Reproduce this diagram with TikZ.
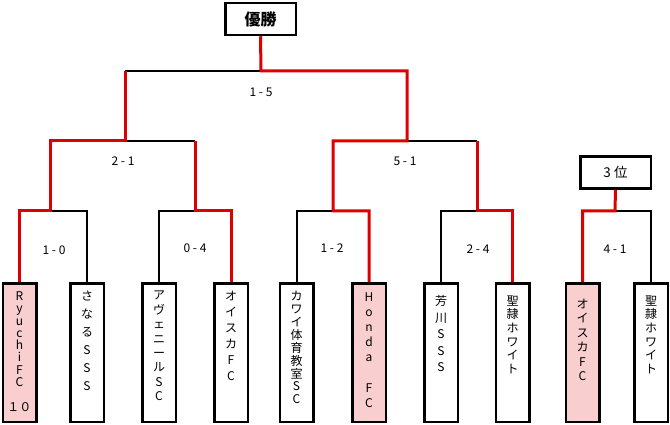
\documentclass[tikz,border=0pt]{standalone}
\usepackage{fontspec}
\setmainfont{Noto Sans CJK JP}
\usetikzlibrary{positioning}
\definecolor{winred}{RGB}{221,0,0}
\definecolor{winpink}{RGB}{248,206,206}
\tikzset{
  team/.style={draw, line width=2.5pt, minimum width=33.5pt, minimum height=138.5pt, anchor=north, inner sep=0pt},
  teamwin/.style={team, fill=winpink},
  teamname/.style={align=center, inner sep=0pt, font=\fontsize{12}{#1}\selectfont},
  rankbox/.style={draw, line width=2.5pt, minimum width=70.5pt, minimum height=32pt, inner sep=0pt},
  score/.style={inner sep=0pt, font=\fontsize{12}{14}\selectfont},
  loss/.style={line width=2pt},
  win/.style={draw=winred, line width=3pt}
}
\begin{document}
\begin{tikzpicture}[x=1pt,y=-1pt]
      \useasboundingbox (0,0) rectangle (670,425);
      %%%%%%%%%%%%%%%%%%%%%%%%%%%%%%%%%%%%%%%%%%%%%%%
      \node[rankbox] (champ) at (260.5,19) {\fontsize{16}{18}\selectfont\bfseries 優勝};
      \node[rankbox] (third) at (615.5,172.5) {\fontsize{13.5}{15}\selectfont 3 位};
      %%%%%%%%%%%%%%%%%%%%%%%%%%%%%%%%%%%%%%%%%%%%%%%
      \node[teamwin] (t1)  at (19.5,282) {};
      \node[team]    (t2)  at (87,282)   {};
      \node[team]    (t3)  at (159,282)  {};
      \node[team]    (t4)  at (231,282)  {};
      \node[team]    (t5)  at (296.5,282) {};
      \node[teamwin] (t6)  at (369,282)  {};
      \node[team]    (t7)  at (441,282)  {};
      \node[team]    (t8)  at (512.5,282) {};
      \node[teamwin] (t9)  at (582.5,282) {};
      \node[team]    (t10) at (651,282)  {};
      %%%%%%%%%%%%%%%%%%%%%%%%%%%%%%%%%%%%%%%%%%%%%%%
      \node[teamname=12.3pt, below=9.5pt of t1.north]  (n1)  {R\\y\\u\\c\\h\\i\\F\\C\\[12.3pt]１０};
      \node[teamname=18pt,   below=9pt of t2.north]    (n2)  {さ\\な\\る\\S\\S\\S};
      \node[teamname=14.4pt, below=9pt of t3.north]    (n3)  {ア\\ヴ\\ェ\\ニ\\ー\\ル\\S\\C};
      \node[teamname=16pt,   below=9pt of t4.north]    (n4)  {オ\\イ\\ス\\カ\\F\\C};
      \node[teamname=12.9pt, below=9pt of t5.north]    (n5)  {カ\\ワ\\イ\\体\\育\\教\\室\\S\\C};
      \node[teamname=15.1pt, below=10.5pt of t6.north] (n6)  {H\\o\\n\\d\\a\\[15.1pt]F\\C};
      \node[teamname=16.5pt, below=13.5pt of t7.north] (n7)  {芳\\川\\S\\S\\S};
      \node[teamname=13.6pt, below=13.5pt of t8.north] (n8)  {聖\\隷\\ホ\\ワ\\イ\\ト};
      \node[teamname=14.4pt, below=17pt of t9.north]   (n9)  {オ\\イ\\ス\\カ\\F\\C};
      \node[teamname=13.6pt, below=13.5pt of t10.north] (n10) {聖\\隷\\ホ\\ワ\\イ\\ト};
      %%%%%%%%%%%%%%%%%%%%%%%%%%%%%%%%%%%%%%%%%%%%%%%
      \coordinate (q1) at (50,211);
      \coordinate (q2) at (195,211);
      \coordinate (q3) at (333,211);
      \coordinate (q4) at (477,211);
      \coordinate (q5) at (615,211);
      \coordinate (s1) at (125,141);
      \coordinate (s2) at (407,141);
      \coordinate (f)  at (261,71);
      %%%%%%%%%%%%%%%%%%%%%%%%%%%%%%%%%%%%%%%%%%%%%%%
      \draw[loss] (t2.north) |- (q1)
                  (t3.north) |- (q2)
                  (s1) -- (s1 -| q2)
                  (s1 |- f) -- (f)
                  (t5.north) |- (q3)
                  (t7.north) |- (q4)
                  (s2) -- (s2 -| q4)
                  (t10.north) |- (q5);
      \draw[win] (t1.north) |- (q1) |- (s1) -- (s1 |- f);
      \draw[win] (t4.north) |- (q2) -- (q2 |- s1);
      \draw[win] (t6.north) |- (q3) |- (s2) |- (f) -- (champ.south);
      \draw[win] (t8.north) |- (q4) -- (q4 |- s2);
      \draw[win] (t9.north) |- (q5) -- (third.south);
      %%%%%%%%%%%%%%%%%%%%%%%%%%%%%%%%%%%%%%%%%%%%%%%
      \node[score] (r15) at (261,92)  {1 - 5};
      \node[score] (r21) at (123,161) {2 - 1};
      \node[score] (r51) at (405,161) {5 - 1};
      \node[score] (r10) at (54,250)  {1 - 0};
      \node[score] (r04) at (195,248) {0 - 4};
      \node[score] (r12) at (332,248) {1 - 2};
      \node[score] (r24) at (478,249) {2 - 4};
      \node[score] (r41) at (615,249) {4 - 1};
      %%%%%%%%%%%%%%%%%%%%%%%%%%%%%%%%%%%%%%%%%%%%%%%
\end{tikzpicture}
\end{document}
